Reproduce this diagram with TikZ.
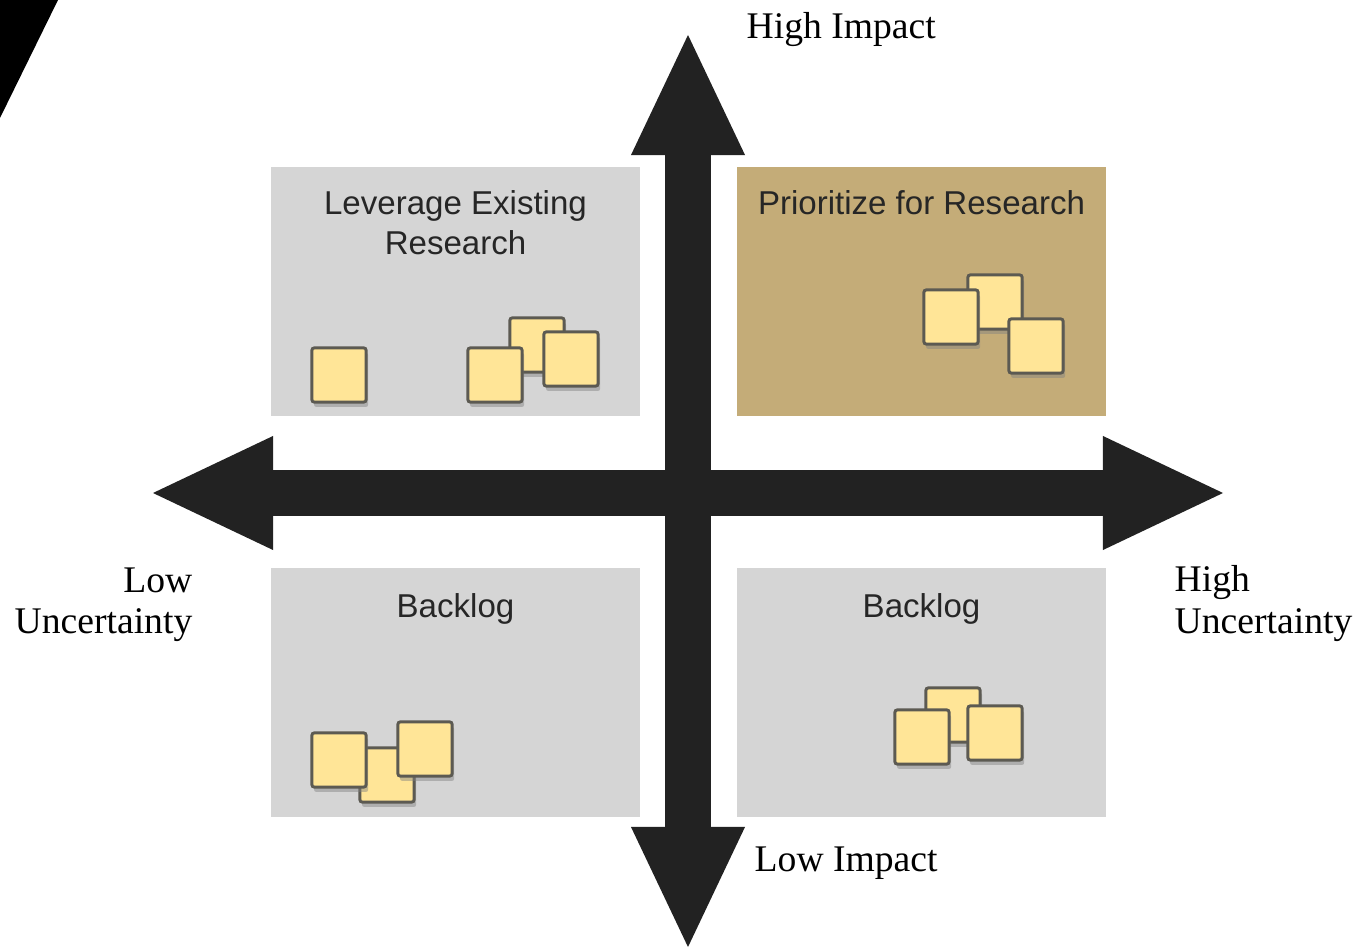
\documentclass[tikz,border=0pt]{standalone}
\usepackage{fontspec}
\setmainfont{Liberation Serif}
\newfontfamily\boxfont{Liberation Sans}
\usetikzlibrary{arrows.meta,positioning,shadows}

\definecolor{quadgrey}{HTML}{D5D5D5}
\definecolor{quadtan}{HTML}{C4AC78}
\definecolor{axisblack}{HTML}{222222}
\definecolor{notefill}{HTML}{FFE597}
\definecolor{noteedge}{HTML}{5C5A52}

\begin{document}
\begin{tikzpicture}
[
x=0.01cm, y=-0.01cm,
quad/.style={fill=#1, minimum width=3.69cm, minimum height=2.49cm, inner sep=0pt},
quad/.default=quadgrey,
qtitle/.style={font=\boxfont\fontsize{9.4}{11.4}\selectfont, align=center, inner sep=0pt, text=black!85},
note/.style={draw=noteedge, line width=0.85pt, fill=notefill, minimum size=0.54cm, inner sep=0pt,
            rounded corners=0.6pt, drop shadow={shadow xshift=0.6pt, shadow yshift=-1.4pt, opacity=0.45}},
bigtip/.tip={Triangle[length=1.2cm, width=1.14cm, line width=0pt]},
axis/.style={line width=0.45cm, draw=axisblack, {bigtip}-{bigtip}},
axislabel/.style={font=\fontsize{10.7}{11.8}\selectfont, inner sep=0pt},
]
\useasboundingbox (0,0) rectangle (1360,949);

%Corner wedge
\fill[black] (0,0) -- (58,0) -- (0,118) -- cycle;

%Place the quadrants
\node[quad] (lever) at (455.5,291.5) {};
\node[quad=quadtan] (prio) at (921.5,291.5) {};
\node[quad] (backlo) at (455.5,692.5) {};
\node[quad] (backhi) at (921.5,692.5) {};

\node[qtitle, below=0.24cm of lever.north] (levert) {Leverage Existing\\Research};
\node[qtitle, below=0.24cm of prio.north] (priot) {Prioritize for Research};
\node[qtitle, below=0.26cm of backlo.north] (backlot) {Backlog};
\node[qtitle, below=0.26cm of backhi.north] (backhit) {Backlog};

%Sticky notes
\node[note] (lv1) at (339,375) {};
\node[note] (lv2) at (537,345) {};
\node[note] (lv3) at (495,375) {};
\node[note] (lv4) at (571,359) {};

\node[note] (pr1) at (995,302) {};
\node[note] (pr2) at (951,317) {};
\node[note] (pr3) at (1036,346) {};

\node[note] (bl1) at (387,775) {};
\node[note] (bl2) at (339,760) {};
\node[note] (bl3) at (425,749) {};

\node[note] (bh1) at (953,715) {};
\node[note] (bh2) at (922,737) {};
\node[note] (bh3) at (995,733) {};

%Draw the axes
\coordinate (top) at (688,35);
\coordinate (bottom) at (688,947);
\coordinate (left) at (153,493);
\coordinate (right) at (1223,493);
\draw[axis] (left) -- (right);
\draw[axis] (bottom) -- (top);

%Axis labels
\node[axislabel, anchor=base west] (himp) at (746,39) {High Impact};
\node[axislabel, anchor=base west] (limp) at (754,871) {Low Impact};
\node[axislabel, align=right, anchor=north east] (lunc) at (193,567) {Low\\Uncertainty};
\node[axislabel, align=left, anchor=north west] (hunc) at (1174,565) {High\\Uncertainty};
\end{tikzpicture}
\end{document}
